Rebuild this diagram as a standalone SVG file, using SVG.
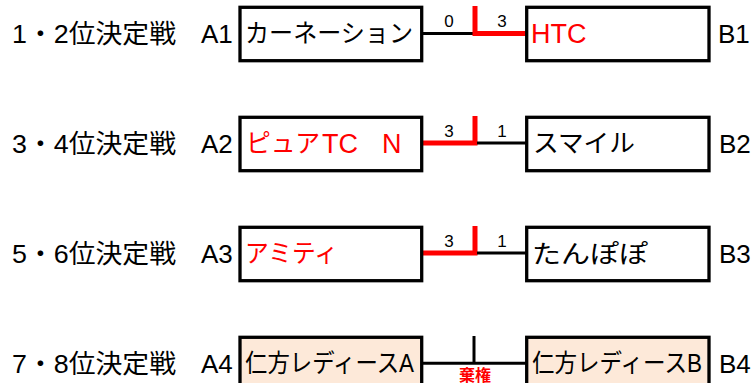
<svg xmlns="http://www.w3.org/2000/svg" width="752" height="383" viewBox="0 0 752 383">
<style>
text{font-family:"Liberation Sans","Noto Sans CJK JP",sans-serif;fill:#000}
.lbl{font-size:26px}
.bx{font-size:25px}
.lat{font-size:27px}
.red{fill:#ff0000}
.sc{font-size:17px;text-anchor:middle}
.box{fill:#fff;stroke:#000;stroke-width:3.3}
.box4{fill:#fde9d9;stroke:#000;stroke-width:3.3}
.bl{stroke:#000;stroke-width:3;fill:none}
.rd{stroke:#ff0000;stroke-width:5;fill:none}
</style>
<g id="labels">
<text class="lbl" x="12" y="43" textLength="164" lengthAdjust="spacingAndGlyphs">1・2位決定戦</text>
<text class="lbl" x="12" y="153" textLength="164" lengthAdjust="spacingAndGlyphs">3・4位決定戦</text>
<text class="lbl" x="12" y="263" textLength="164" lengthAdjust="spacingAndGlyphs">5・6位決定戦</text>
<text class="lbl" x="12" y="373" textLength="164" lengthAdjust="spacingAndGlyphs">7・8位決定戦</text>
<text class="lbl" x="201" y="43">A1</text>
<text class="lbl" x="201" y="153">A2</text>
<text class="lbl" x="201" y="263">A3</text>
<text class="lbl" x="201" y="373">A4</text>
<text class="lbl" x="718" y="43">B1</text>
<text class="lbl" x="719" y="153">B2</text>
<text class="lbl" x="719" y="263">B3</text>
<text class="lbl" x="719" y="373">B4</text>
</g>
<g id="connectors">
<line class="bl" x1="423" y1="33.5" x2="476" y2="33.5"/>
<polyline class="rd" points="475,6 475,33.5 526,33.5"/>
<polyline class="rd" points="423,143 475,143 475,116"/>
<line class="bl" x1="477" y1="143" x2="526" y2="143"/>
<polyline class="rd" points="423,253 475,253 475,226"/>
<line class="bl" x1="477" y1="253" x2="526" y2="253"/>
<line class="bl" x1="474" y1="336" x2="474" y2="363"/>
<line class="bl" x1="423" y1="363.3" x2="526" y2="363.3"/>
<text class="sc" x="449" y="27">0</text>
<text class="sc" x="502" y="27">3</text>
<text class="sc" x="449" y="137">3</text>
<text class="sc" x="502" y="137">1</text>
<text class="sc" x="449" y="247">3</text>
<text class="sc" x="502" y="247">1</text>
<text class="red" x="475" y="381" font-size="16" font-weight="bold" text-anchor="middle">棄権</text>
</g>
<g id="A1">
<rect class="box" x="240" y="7.3" width="181.7" height="53.4"/>
<text class="bx" x="245" y="42" textLength="168" lengthAdjust="spacingAndGlyphs">カーネーション</text>
</g>
<g id="B1">
<rect class="box" x="526.7" y="7.3" width="182.3" height="53.4"/>
<text class="lat red" x="531" y="43">HTC</text>
</g>
<g id="A2">
<rect class="box" x="240" y="117.3" width="181.7" height="53.4"/>
<text class="bx red" x="246" y="152" textLength="74" lengthAdjust="spacingAndGlyphs">ピュア</text>
<text class="lat red" x="322" y="153">TC</text>
<text class="lat red" x="382" y="153">N</text>
</g>
<g id="B2">
<rect class="box" x="526.7" y="117.3" width="182.3" height="53.4"/>
<text class="bx" x="533" y="152" textLength="102" lengthAdjust="spacingAndGlyphs">スマイル</text>
</g>
<g id="A3">
<rect class="box" x="240" y="227.3" width="181.7" height="53.4"/>
<text class="bx red" x="245" y="262" textLength="93" lengthAdjust="spacingAndGlyphs">アミティ</text>
</g>
<g id="B3">
<rect class="box" x="526.7" y="227.3" width="182.3" height="53.4"/>
<text class="bx" x="532" y="263" font-size="28" textLength="116" lengthAdjust="spacingAndGlyphs">たんぽぽ</text>
</g>
<g id="A4">
<rect class="box4" x="240" y="337.3" width="181.7" height="53.4"/>
<text class="bx" x="245" y="372" textLength="169" lengthAdjust="spacingAndGlyphs">仁方レディースA</text>
</g>
<g id="B4">
<rect class="box4" x="526.7" y="337.3" width="182.3" height="53.4"/>
<text class="bx" x="532" y="372" textLength="170" lengthAdjust="spacingAndGlyphs">仁方レディースB</text>
</g>
</svg>
